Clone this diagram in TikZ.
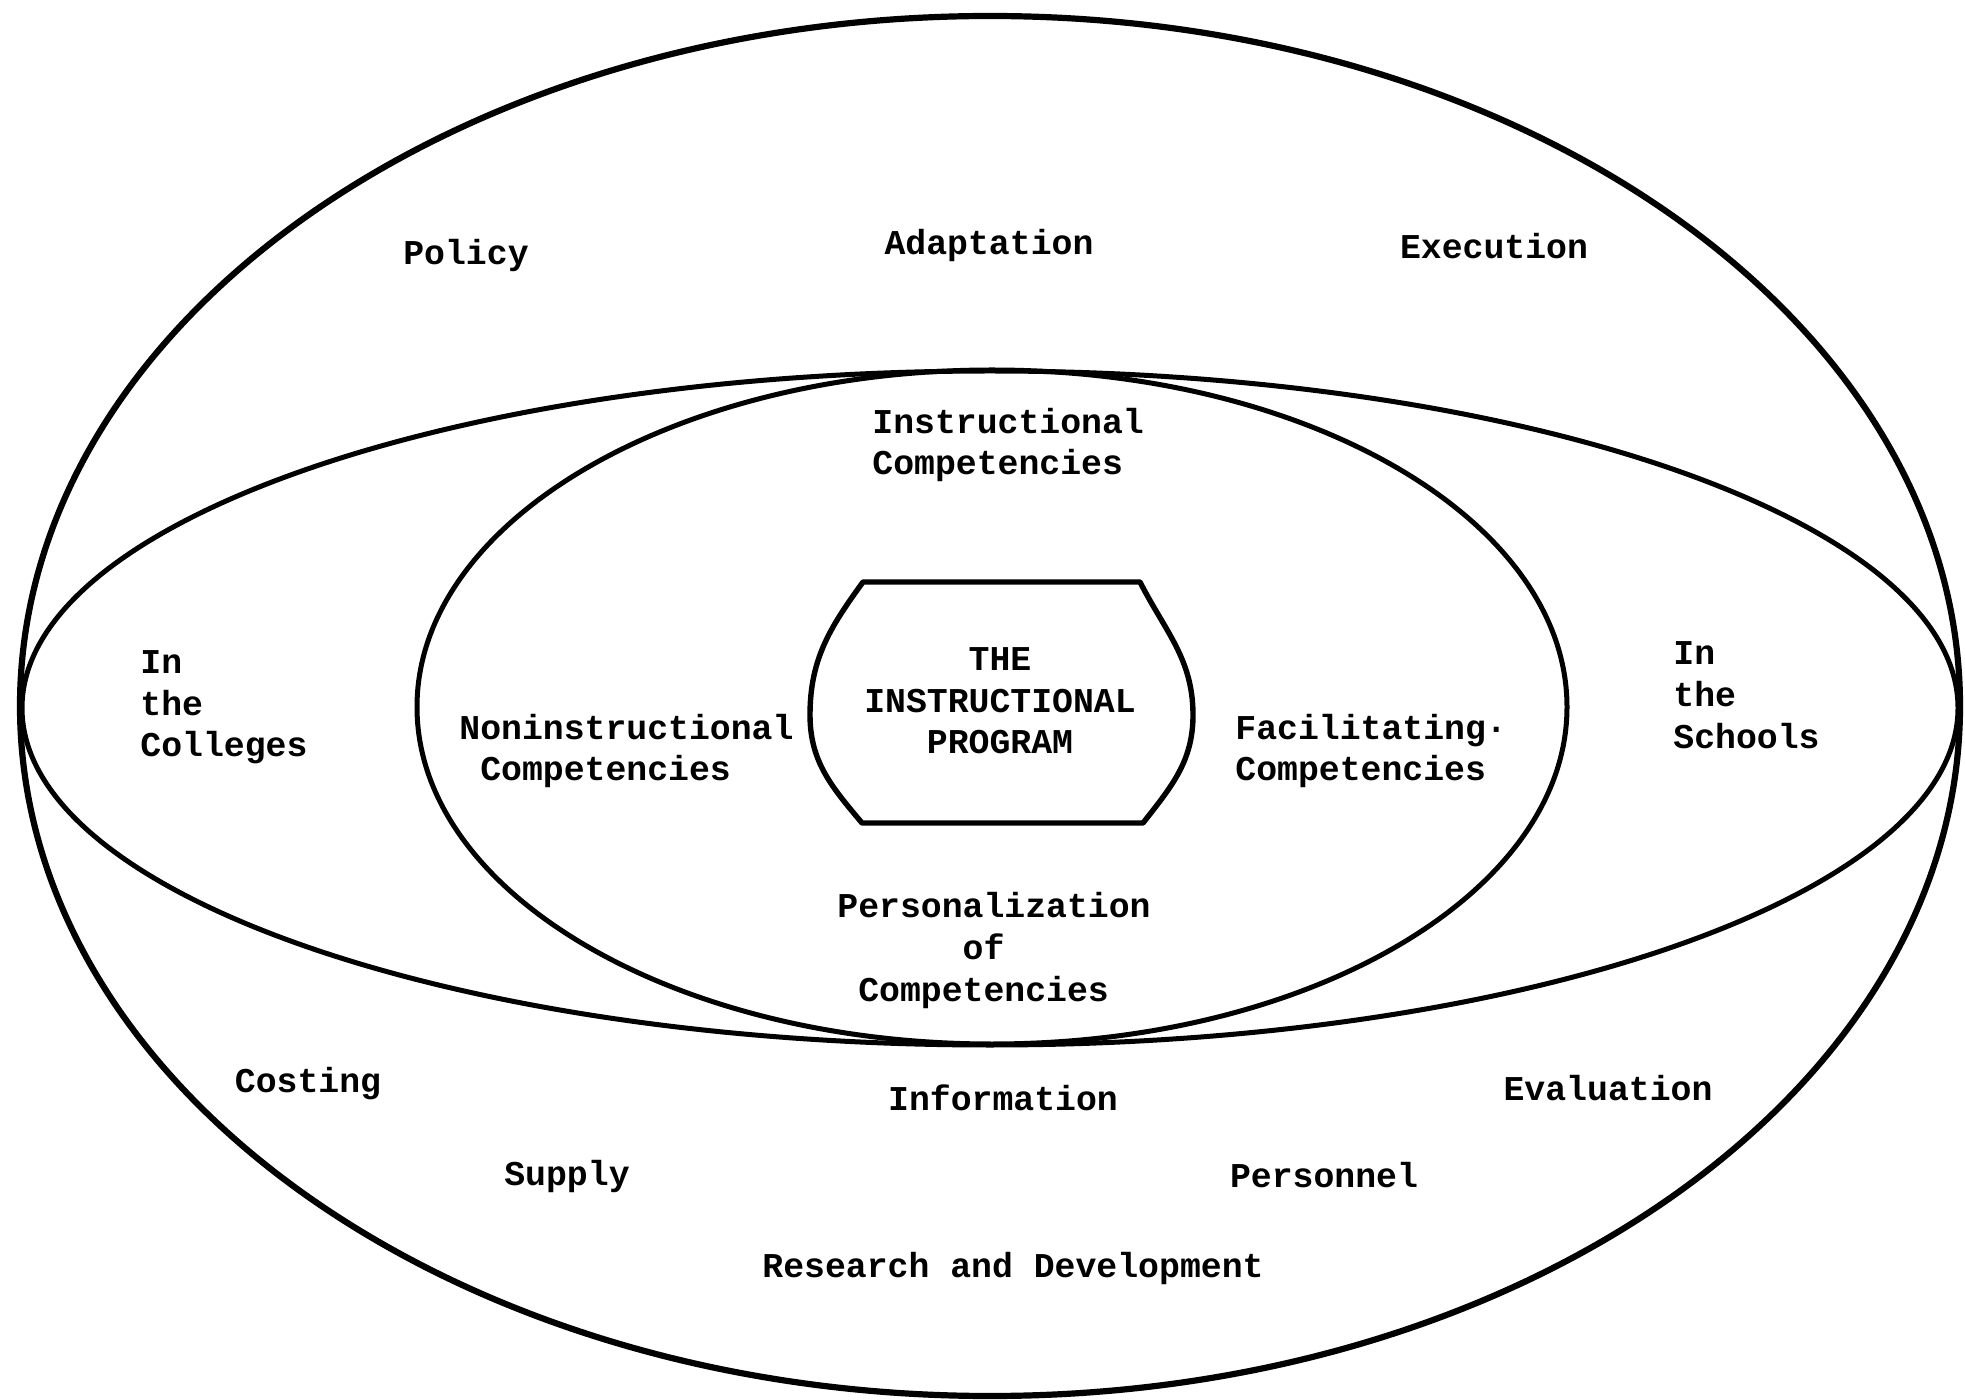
\documentclass[tikz,border=0pt]{standalone}
\usepackage{fontspec}
\newfontfamily\tw{Liberation Mono}
\begin{document}
\begin{tikzpicture}[x=0.5pt,y=-0.5pt,
  lbl/.style={font={\tw\bfseries\fontsize{17.4pt}{20.8pt}\selectfont}, inner sep=0pt},
  lbll/.style={lbl, align=left, anchor=base west},
  lblc/.style={lbl, align=center, anchor=base},
  outerring/.style={draw=black, line width=3.1pt},
  ring/.style={draw=black, line width=2.5pt},
  prog/.style={draw=black, line width=2.7pt, line join=round}]
\useasboundingbox (0,0) rectangle (1965,1400);
% rings
\draw[outerring] (990,706) ellipse [x radius=485pt, y radius=345pt];
\draw[ring] (990,708) ellipse [x radius=484pt, y radius=168.5pt];
\draw[ring] (992,707) ellipse [x radius=287.5pt, y radius=168.5pt];
% central program shape
\draw[prog] (863,582) -- (1140,582) to[out=-63,in=90] (1193,715)
  to[out=-90,in=52] (1143,823) -- (862,823) to[out=130,in=-90] (810,715)
  to[out=90,in=-126] cycle;
\node[lblc] (prog) at (1000,754) {THE\\INSTRUCTIONAL\\PROGRAM};
% outer ring labels
\node[lblc] (policy) at (466,265) {Policy};
\node[lblc] (adapt) at (989,255) {Adaptation};
\node[lblc] (exec) at (1494,259) {Execution};
\node[lblc] (cost) at (308,1092) {Costing};
\node[lblc] (info) at (1003,1110) {Information};
\node[lblc] (eval) at (1608,1100) {Evaluation};
\node[lblc] (supply) at (567,1185) {Supply};
\node[lblc] (pers) at (1324,1187) {Personnel};
\node[lblc] (rnd) at (1013,1277) {Research and Development};
% middle ring labels
\node[lbll] (coll) at (140,757) {In\\the\\Colleges};
\node[lbll] (schools) at (1673,748) {In\\the\\Schools};
% inner ring labels
\node[lbll] (instr) at (872,475) {Instructional\\Competencies};
\node[lbll] (nonin) at (459,781) {Noninstructional\\\phantom{C}Competencies};
\node[lbll] (facil) at (1235,781) {Facilitating·\\Competencies};
\node[lbll] (person) at (837,1001) {Personalization\\\phantom{Person}of\\\phantom{C}Competencies};
\end{tikzpicture}
\end{document}
